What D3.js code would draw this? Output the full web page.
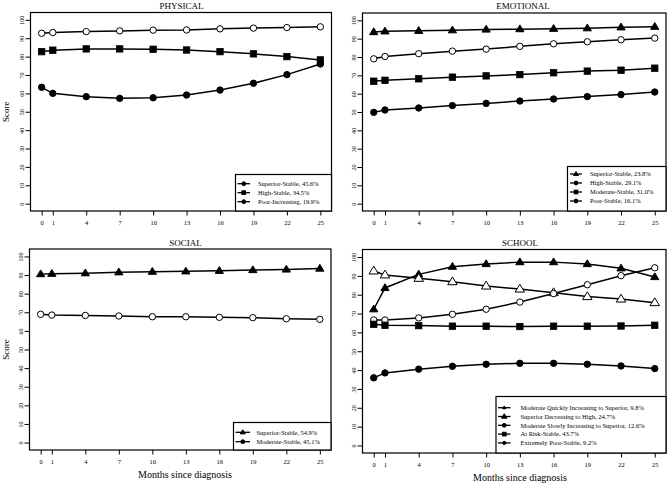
<!DOCTYPE html>
<html><head><meta charset="utf-8">
<script src="https://cdn.jsdelivr.net/npm/d3@7"></script>
<style>body{margin:0;background:#fff}svg{display:block}text{font-family:"Liberation Serif","DejaVu Serif",serif;fill:#000}</style>
</head><body>
<svg id="c" width="667" height="483"></svg>
<script>
const months = [0, 1, 4, 7, 10, 13, 16, 19, 22, 25];
const yTicks = [0, 10, 20, 30, 40, 50, 60, 70, 80, 90, 100];
const xLabel = "Months since diagnosis";
const yLabel = "Score";

const physicalSuperiorStable = [92.7, 93.1, 93.6, 94.0, 94.4, 94.5, 95.1, 95.5, 95.8, 96.2];
const physicalHighStable = [82.7, 83.5, 84.2, 84.2, 84.0, 83.6, 82.7, 81.5, 80.0, 78.2];
const physicalPoorIncreasing = [63.3, 60.0, 58.2, 57.3, 57.6, 59.1, 61.8, 65.5, 70.2, 76.0];

const emotionalSuperiorStable = [93.6, 94.0, 94.3, 94.6, 95.0, 95.2, 95.4, 95.7, 96.2, 96.5];
const emotionalHighStable = [79.0, 80.3, 81.8, 83.2, 84.3, 85.8, 87.2, 88.3, 89.4, 90.3];
const emotionalModerateStable = [66.8, 67.3, 68.1, 69.0, 69.7, 70.4, 71.4, 72.3, 72.8, 73.9];
const emotionalPoorStable = [49.8, 51.1, 52.2, 53.5, 54.7, 56.0, 57.1, 58.4, 59.5, 60.9];

const socialSuperiorStable = [90.5, 90.7, 91.0, 91.5, 91.8, 92.0, 92.3, 92.7, 93.0, 93.5];
const socialModerateStable = [68.9, 68.5, 68.3, 68.0, 67.6, 67.6, 67.3, 67.1, 66.5, 66.2];

const schoolModQuickInc = [72.3, 83.6, 90.8, 94.9, 96.3, 97.3, 97.3, 96.3, 94.0, 89.4];
const schoolSupDecHigh = [92.6, 90.5, 88.7, 86.9, 84.6, 83.0, 81.1, 79.0, 77.7, 75.8];
const schoolModSlowInc = [66.6, 66.6, 67.7, 69.6, 72.3, 76.1, 80.6, 85.3, 90.1, 94.3];
const schoolAtRiskStable = [64.3, 63.8, 63.6, 63.3, 63.3, 63.1, 63.3, 63.3, 63.4, 63.8];
const schoolExtPoorStable = [35.9, 38.5, 40.5, 42.0, 43.1, 43.6, 43.6, 43.1, 42.2, 40.8];

const panels = [
  {title: "PHYSICAL", box: {l: 30.5, r: 331.5, t: 12.5, b: 211}, titleX: 181.5, titleY: 8.5, showY: true, showX: false,
   legend: {x: 235.5, y: 174.5, rowY0: 9.2, dy: 9, lineX0: 2, lineX1: 14.5, textX: 22.5},
   series: [
     {name: "Superior-Stable, 45.6%", values: physicalSuperiorStable, shape: "circle", fill: "#fff", lshape: "circle"},
     {name: "High-Stable, 34.5%", values: physicalHighStable, shape: "square", fill: "#000", lshape: "square"},
     {name: "Poor-Increasing, 19.9%", values: physicalPoorIncreasing, shape: "circle", fill: "#000", lshape: "circle"}
   ]},
  {title: "EMOTIONAL", box: {l: 362.5, r: 666, t: 13, b: 211}, titleX: 523, titleY: 8.5, showY: false, showX: false,
   legend: {x: 567.5, y: 166.5, rowY0: 7.5, dy: 9, lineX0: 2.5, lineX1: 14.5, textX: 22.5},
   series: [
     {name: "Superior-Stable, 23.8%", values: emotionalSuperiorStable, shape: "triangle", fill: "#000", lshape: "triangle"},
     {name: "High-Stable, 29.1%", values: emotionalHighStable, shape: "circle", fill: "#fff", lshape: "circle"},
     {name: "Moderate-Stable, 31.0%", values: emotionalModerateStable, shape: "square", fill: "#000", lshape: "square"},
     {name: "Poor-Stable, 16.1%", values: emotionalPoorStable, shape: "circle", fill: "#000", lshape: "circle"}
   ]},
  {title: "SOCIAL", box: {l: 29.5, r: 331, t: 249, b: 450}, titleX: 185.5, titleY: 245.5, showY: true, showX: true, xLabelY: 477.5, xLabelX: 185,
   legend: {x: 233.5, y: 422.5, rowY0: 9.8, dy: 9.4, lineX0: 2, lineX1: 16.5, textX: 23},
   series: [
     {name: "Superior-Stable, 54.9%", values: socialSuperiorStable, shape: "triangle", fill: "#000", lshape: "triangle"},
     {name: "Moderate-Stable, 45.1%", values: socialModerateStable, shape: "circle", fill: "#fff", lshape: "circle"}
   ]},
  {title: "SCHOOL", box: {l: 362.5, r: 666, t: 249.5, b: 453}, titleX: 520, titleY: 245.5, showY: false, showX: true, xLabelY: 481, xLabelX: 520,
   legend: {x: 496, y: 396.5, rowY0: 11.2, dy: 8.8, lineX0: 2, lineX1: 14.5, textX: 24.5},
   series: [
     {name: "Moderate Quickly Increasing to Superior, 9.8%", values: schoolModQuickInc, shape: "triangle", fill: "#000", lshape: "triangle", lsize: 0.7},
     {name: "Superior Decreasing to High, 24.7%", values: schoolSupDecHigh, shape: "triangle", fill: "#fff", big: true, lshape: "triangle", lsize: 1.1},
     {name: "Moderate Slowly Increasing to Superior, 12.6%", values: schoolModSlowInc, shape: "circle", fill: "#fff", lshape: "circle"},
     {name: "At Risk-Stable, 43.7%", values: schoolAtRiskStable, shape: "square", fill: "#000", lshape: "square"},
     {name: "Extremely Poor-Stable, 9.2%", values: schoolExtPoorStable, shape: "circle", fill: "#000", lshape: "circle", lsize: 0.8}
   ]}
];

const svg = d3.select("#c");

function drawMarker(g, shape, cx, cy, fill, scale) {
  const s = scale || 1;
  if (shape === "circle") {
    g.append("circle").attr("cx", cx).attr("cy", cy).attr("r", 3.2 * s)
      .attr("fill", fill).attr("stroke", "#000").attr("stroke-width", 1);
  } else if (shape === "square") {
    const h = 3.2 * s;
    g.append("rect").attr("x", cx - h).attr("y", cy - h).attr("width", 2 * h).attr("height", 2 * h)
      .attr("fill", fill).attr("stroke", "#000").attr("stroke-width", 0.8);
  } else {
    const h = 4.2 * s;
    const p = d3.path();
    p.moveTo(cx, cy - h); p.lineTo(cx + h * 0.98, cy + h * 0.62); p.lineTo(cx - h * 0.98, cy + h * 0.62); p.closePath();
    g.append("path").attr("d", p.toString()).attr("fill", fill).attr("stroke", "#000").attr("stroke-width", 1);
  }
}

panels.forEach(P => {
  const b = P.box;
  const x = d3.scaleLinear().domain([-1, 26]).range([b.l, b.r]);
  const y = d3.scaleLinear().domain([-4, 104]).range([b.b, b.t]);
  const g = svg.append("g");

  g.append("text").attr("x", P.titleX).attr("y", P.titleY).attr("text-anchor", "middle")
    .attr("font-size", 9).text(P.title);

  const xa = g.append("g").attr("transform", `translate(0,${b.b})`)
    .call(d3.axisBottom(x).tickValues(months).tickSize(4.5).tickSizeOuter(0).tickPadding(5).tickFormat(d3.format("d")));
  xa.select(".domain").remove();
  xa.selectAll("line").attr("stroke", "#000");
  xa.selectAll("text").attr("font-size", 6.5).attr("font-family", "Liberation Serif");

  const ya = g.append("g").attr("transform", `translate(${b.l},0)`)
    .call(d3.axisLeft(y).tickValues(yTicks).tickSize(5).tickSizeOuter(0).tickFormat(d3.format("d")));
  ya.select(".domain").remove();
  ya.selectAll("line").attr("stroke", "#000");
  ya.selectAll("text").attr("font-size", 6).attr("font-family", "Liberation Serif")
    .attr("x", null).attr("dy", null)
    .attr("text-anchor", "middle")
    .attr("transform", "translate(-9,0) rotate(-90)")
    .attr("y", 2);

  g.append("rect").attr("x", b.l).attr("y", b.t).attr("width", b.r - b.l).attr("height", b.b - b.t)
    .attr("fill", "none").attr("stroke", "#000").attr("stroke-width", 1.2);

  if (P.showY) {
    g.append("text").attr("transform", `translate(9,${(b.t + b.b) / 2}) rotate(-90)`)
      .attr("text-anchor", "middle").attr("font-size", 9).text(yLabel);
  }
  if (P.showX) {
    g.append("text").attr("x", P.xLabelX).attr("y", P.xLabelY).attr("text-anchor", "middle")
      .attr("font-size", 10).text(xLabel);
  }

  const line = d3.line().x((d, i) => x(months[i])).y(d => y(d));
  P.series.forEach(s => {
    g.append("path").attr("d", line(s.values)).attr("fill", "none").attr("stroke", "#000").attr("stroke-width", 1.5);
  });
  P.series.forEach(s => {
    s.values.forEach((v, i) => drawMarker(g, s.shape, x(months[i]), y(v), s.fill, s.big ? 1.15 : 1));
  });

  const L = P.legend;
  const lg = g.append("g");
  lg.append("rect").attr("x", L.x).attr("y", L.y).attr("width", b.r - L.x).attr("height", b.b - L.y)
    .attr("fill", "#fff").attr("stroke", "#000").attr("stroke-width", 1.2);
  P.series.forEach((s, i) => {
    const yy = L.y + L.rowY0 + i * L.dy;
    lg.append("line").attr("x1", L.x + L.lineX0).attr("x2", L.x + L.lineX1).attr("y1", yy).attr("y2", yy)
      .attr("stroke", "#000").attr("stroke-width", 1.3);
    drawMarker(lg, s.lshape, L.x + (L.lineX0 + L.lineX1) / 2, yy, "#000", 0.6 * (s.lsize || 1));
    lg.append("text").attr("x", L.x + L.textX).attr("y", yy + 2.3).attr("font-size", 6.5).text(s.name);
  });
});
</script>
</body></html>
